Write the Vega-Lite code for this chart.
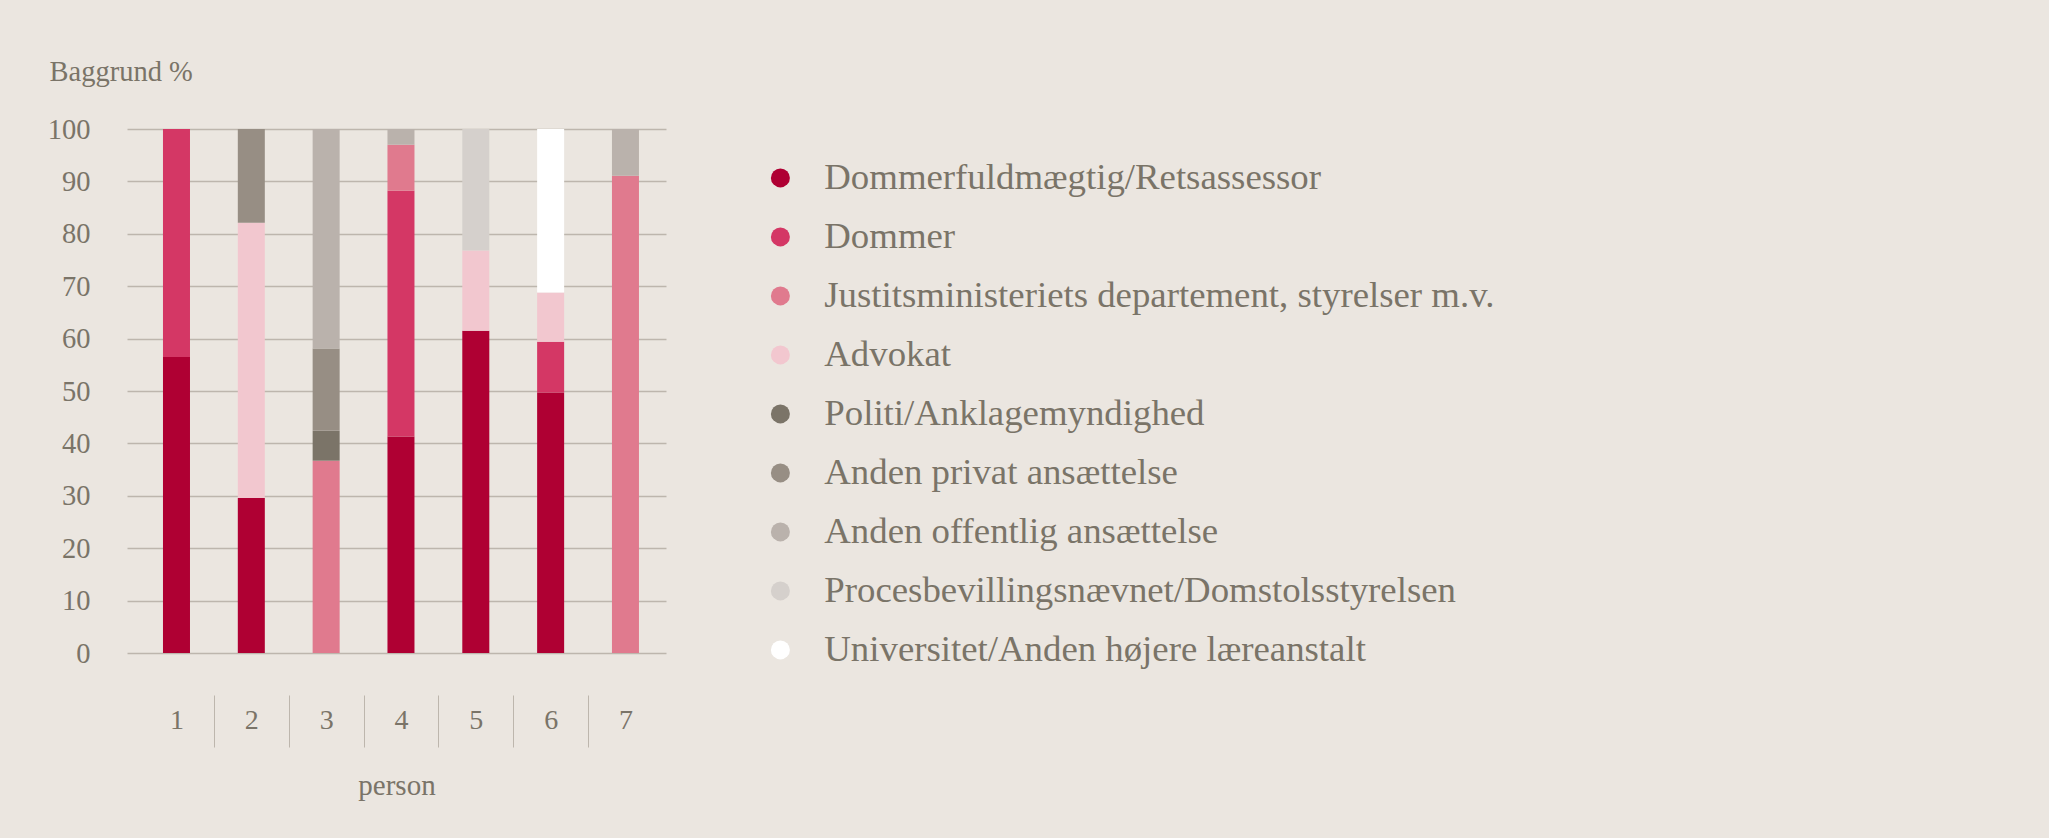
{
  "$schema": "https://vega.github.io/schema/vega-lite/v6.json",
  "width": 539,
  "height": 524,
  "autosize": {"type": "none"},
  "padding": {"left": 127, "top": 129, "right": 1383, "bottom": 185},
  "background": "#EBE6E0",
  "config": {"font": "Liberation Serif", "view": {"stroke": null}},
  "data": {
    "values": [
      {"person": 1, "nr": 1, "baggrund": "Dommerfuldmægtig/Retsassessor", "pct": 56.5},
      {"person": 1, "nr": 2, "baggrund": "Dommer", "pct": 43.5},
      {"person": 2, "nr": 1, "baggrund": "Dommerfuldmægtig/Retsassessor", "pct": 29.6},
      {"person": 2, "nr": 4, "baggrund": "Advokat", "pct": 52.5},
      {"person": 2, "nr": 6, "baggrund": "Anden privat ansættelse", "pct": 17.9},
      {"person": 3, "nr": 3, "baggrund": "Justitsministeriets departement, styrelser m.v.", "pct": 36.7},
      {"person": 3, "nr": 5, "baggrund": "Politi/Anklagemyndighed", "pct": 5.7},
      {"person": 3, "nr": 6, "baggrund": "Anden privat ansættelse", "pct": 15.7},
      {"person": 3, "nr": 7, "baggrund": "Anden offentlig ansættelse", "pct": 41.9},
      {"person": 4, "nr": 1, "baggrund": "Dommerfuldmægtig/Retsassessor", "pct": 41.3},
      {"person": 4, "nr": 2, "baggrund": "Dommer", "pct": 46.9},
      {"person": 4, "nr": 3, "baggrund": "Justitsministeriets departement, styrelser m.v.", "pct": 8.8},
      {"person": 4, "nr": 7, "baggrund": "Anden offentlig ansættelse", "pct": 3.0},
      {"person": 5, "nr": 1, "baggrund": "Dommerfuldmægtig/Retsassessor", "pct": 61.5},
      {"person": 5, "nr": 4, "baggrund": "Advokat", "pct": 15.3},
      {"person": 5, "nr": 8, "baggrund": "Procesbevillingsnævnet/Domstolsstyrelsen", "pct": 23.2},
      {"person": 6, "nr": 1, "baggrund": "Dommerfuldmægtig/Retsassessor", "pct": 49.7},
      {"person": 6, "nr": 2, "baggrund": "Dommer", "pct": 9.7},
      {"person": 6, "nr": 4, "baggrund": "Advokat", "pct": 9.4},
      {"person": 6, "nr": 9, "baggrund": "Universitet/Anden højere læreanstalt", "pct": 31.2},
      {"person": 7, "nr": 3, "baggrund": "Justitsministeriets departement, styrelser m.v.", "pct": 91.1},
      {"person": 7, "nr": 7, "baggrund": "Anden offentlig ansættelse", "pct": 8.9}
    ]
  },
  "mark": {"type": "bar"},
  "encoding": {
    "x": {
      "field": "person",
      "type": "ordinal",
      "scale": {"paddingInner": 0.639, "paddingOuter": 0.421, "align": 0.571},
      "axis": {
        "labelAngle": 0,
        "offset": 42,
        "domain": false,
        "grid": false,
        "tickOffset": -37.4,
        "labelOffset": 37.4,
        "tickSize": 52,
        "tickColor": "#BDB6AD",
        "tickWidth": 1,
        "tickOpacity": {"condition": {"test": "datum.value == 1", "value": 0}, "value": 1},
        "labelPadding": -27,
        "labelBaseline": "middle",
        "labelFontSize": 28,
        "labelColor": "#7A7468",
        "title": "person",
        "titleFontSize": 29,
        "titleFontWeight": "normal",
        "titleColor": "#7A7468",
        "titlePadding": 24
      }
    },
    "y": {
      "field": "pct",
      "type": "quantitative",
      "stack": "zero",
      "scale": {"domain": [0, 100], "nice": false},
      "axis": {
        "values": [0, 10, 20, 30, 40, 50, 60, 70, 80, 90, 100],
        "domain": false,
        "ticks": false,
        "grid": true,
        "gridColor": "#BDB6AD",
        "gridWidth": 1.5,
        "labelPadding": 37,
        "labelFontSize": 28.5,
        "labelColor": "#7A7468",
        "title": "Baggrund %",
        "titleAngle": 0,
        "titleX": -78,
        "titleY": -48.6,
        "titleAlign": "left",
        "titleBaseline": "alphabetic",
        "titleFontSize": 28.5,
        "titleFontWeight": "normal",
        "titleColor": "#7A7468"
      }
    },
    "order": {"field": "nr", "type": "quantitative", "sort": "ascending"},
    "color": {
      "field": "baggrund",
      "type": "nominal",
      "sort": [
        "Dommerfuldmægtig/Retsassessor",
        "Dommer",
        "Justitsministeriets departement, styrelser m.v.",
        "Advokat",
        "Politi/Anklagemyndighed",
        "Anden privat ansættelse",
        "Anden offentlig ansættelse",
        "Procesbevillingsnævnet/Domstolsstyrelsen",
        "Universitet/Anden højere læreanstalt"
      ],
      "scale": {
        "domain": [
          "Dommerfuldmægtig/Retsassessor",
          "Dommer",
          "Justitsministeriets departement, styrelser m.v.",
          "Advokat",
          "Politi/Anklagemyndighed",
          "Anden privat ansættelse",
          "Anden offentlig ansættelse",
          "Procesbevillingsnævnet/Domstolsstyrelsen",
          "Universitet/Anden højere læreanstalt"
        ],
        "range": ["#AF0033", "#D43765", "#E07A8E", "#F2C7CF", "#7B7468", "#978E84", "#BAB2AC", "#D5D0CC", "#FFFFFF"]
      },
      "legend": {
        "orient": "none",
        "legendX": 635,
        "legendY": 30.5,
        "title": null,
        "symbolType": "circle",
        "symbolSize": 361,
        "symbolStrokeWidth": 0,
        "symbolOpacity": 1,
        "labelFontSize": 36.8,
        "labelColor": "#7A7468",
        "labelOffset": 25.5,
        "rowPadding": 21.0,
        "labelLimit": 1000
      }
    }
  }
}
